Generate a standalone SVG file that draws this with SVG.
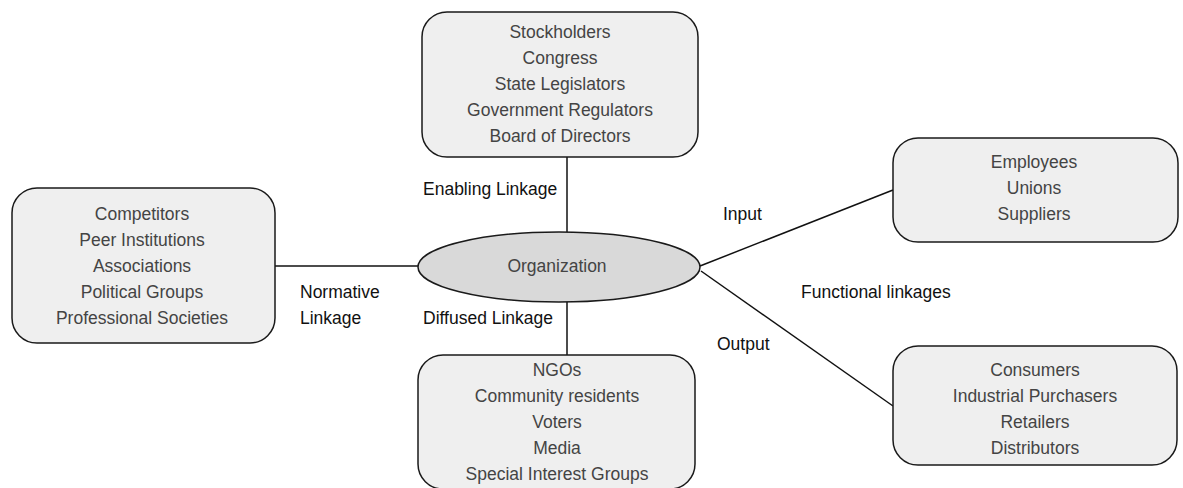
<svg xmlns="http://www.w3.org/2000/svg" width="1183" height="488" viewBox="0 0 1183 488">
  <style>
    .box { fill: #efefef; stroke: #1a1a1a; stroke-width: 1.5; }
    .org { fill: #d9d9d9; stroke: #1a1a1a; stroke-width: 1.5; }
    .item { font-family: "Liberation Sans", Arial, sans-serif; font-size: 17.5px; fill: #444444; text-anchor: middle; }
    .lbl { font-family: "Liberation Sans", Arial, sans-serif; font-size: 17.5px; fill: #111111; }
    .link { stroke: #111111; stroke-width: 1.5; fill: none; }
  </style>

  <!-- connectors -->
  <g id="connectors">
    <line class="link" x1="567" y1="157" x2="567" y2="232"/>
    <line class="link" x1="567" y1="302" x2="567" y2="355"/>
    <line class="link" x1="275" y1="266" x2="418" y2="266"/>
    <line class="link" x1="700" y1="266" x2="893" y2="190"/>
    <line class="link" x1="701" y1="271" x2="893" y2="406"/>
  </g>

  <!-- linkage labels -->
  <g id="labels">
    <text class="lbl" x="423" y="195">Enabling Linkage</text>
    <text class="lbl" x="423" y="324">Diffused Linkage</text>
    <text class="lbl" x="300" y="298">Normative</text>
    <text class="lbl" x="300" y="324">Linkage</text>
    <text class="lbl" x="723" y="220">Input</text>
    <text class="lbl" x="717" y="350">Output</text>
    <text class="lbl" x="801" y="298">Functional linkages</text>
  </g>

  <!-- central organization -->
  <g id="organization">
    <ellipse class="org" cx="559" cy="267" rx="141" ry="35"/>
    <text class="item" x="557" y="272">Organization</text>
  </g>

  <!-- enabling stakeholders -->
  <g id="enabling">
    <rect class="box" x="422" y="12" width="276" height="145" rx="25"/>
    <text class="item" x="560" y="38">Stockholders</text>
    <text class="item" x="560" y="64">Congress</text>
    <text class="item" x="560" y="90">State Legislators</text>
    <text class="item" x="560" y="116">Government Regulators</text>
    <text class="item" x="560" y="142">Board of Directors</text>
  </g>

  <!-- normative stakeholders -->
  <g id="normative">
    <rect class="box" x="12" y="188" width="263" height="155" rx="25"/>
    <text class="item" x="142" y="220">Competitors</text>
    <text class="item" x="142" y="246">Peer Institutions</text>
    <text class="item" x="142" y="272">Associations</text>
    <text class="item" x="142" y="298">Political Groups</text>
    <text class="item" x="142" y="324">Professional Societies</text>
  </g>

  <!-- diffused stakeholders -->
  <g id="diffused">
    <rect class="box" x="418" y="355" width="277" height="134" rx="25"/>
    <text class="item" x="557" y="376">NGOs</text>
    <text class="item" x="557" y="402">Community residents</text>
    <text class="item" x="557" y="428">Voters</text>
    <text class="item" x="557" y="454">Media</text>
    <text class="item" x="557" y="480">Special Interest Groups</text>
  </g>

  <!-- input stakeholders -->
  <g id="input">
    <rect class="box" x="893" y="138" width="285" height="104" rx="25"/>
    <text class="item" x="1034" y="168">Employees</text>
    <text class="item" x="1034" y="194">Unions</text>
    <text class="item" x="1034" y="220">Suppliers</text>
  </g>

  <!-- output stakeholders -->
  <g id="output">
    <rect class="box" x="893" y="346" width="284" height="119" rx="25"/>
    <text class="item" x="1035" y="376">Consumers</text>
    <text class="item" x="1035" y="402">Industrial Purchasers</text>
    <text class="item" x="1035" y="428">Retailers</text>
    <text class="item" x="1035" y="454">Distributors</text>
  </g>
</svg>
